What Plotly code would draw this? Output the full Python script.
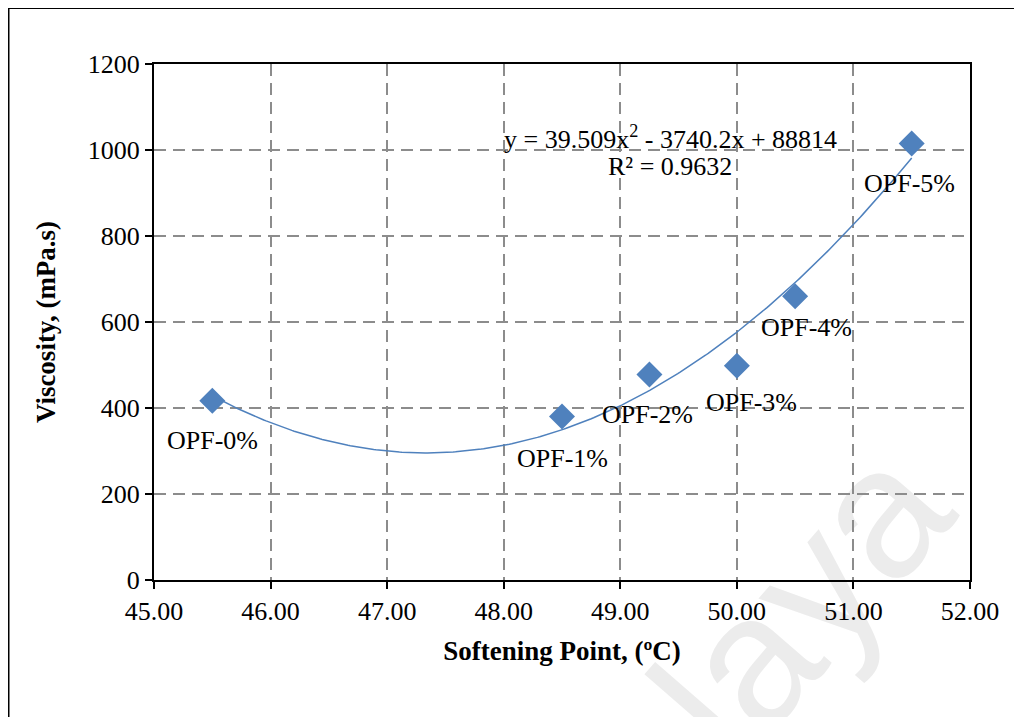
import numpy as np
import plotly.graph_objects as go

# ---- data ----
samples = ["OPF-0%", "OPF-1%", "OPF-2%", "OPF-3%", "OPF-4%", "OPF-5%"]
softening_point = [45.50, 48.50, 49.25, 50.00, 50.50, 51.50]
viscosity = [417, 380, 478, 498, 660, 1015]
trend_coeffs = [39.509, -3740.2, 88814]   # y = a x^2 + b x + c (Excel trendline)
x_ticks = [45, 46, 47, 48, 49, 50, 51, 52]
y_ticks = [0, 200, 400, 600, 800, 1000, 1200]
# label offsets (px) relative to each point
label_dx = [0, 0, -2, 15, 11, -2]
label_dy = [-40, -42, -40, -37, -31, -40]

FONT = "Liberation Serif, Times New Roman, serif"
BLUE = "#4F81BD"

fig = go.Figure()

xs = np.linspace(min(softening_point), max(softening_point), 300)
fig.add_trace(go.Scatter(x=xs, y=np.polyval(trend_coeffs, xs), mode="lines",
                         line=dict(color=BLUE, width=1.5), hoverinfo="skip",
                         showlegend=False))

fig.add_trace(go.Scatter(x=softening_point, y=viscosity, mode="markers",
                         marker=dict(symbol="diamond", size=20, color=BLUE,
                                     line=dict(width=0)),
                         showlegend=False))

annotations = []
for s, x, y, dx, dy in zip(samples, softening_point, viscosity, label_dx, label_dy):
    annotations.append(dict(x=x, y=y, text=s, showarrow=False, xshift=dx, yshift=dy,
                            xanchor="center", yanchor="middle",
                            font=dict(family=FONT, size=26, color="black")))

annotations.append(dict(x=49.43, y=1030, xref="x", yref="y", showarrow=False,
                        xanchor="center", yanchor="middle",
                        text="y = 39.509x<sup>2</sup> - 3740.2x + 88814",
                        font=dict(family=FONT, size=26, color="black")))
annotations.append(dict(x=49.43, y=962, xref="x", yref="y", showarrow=False,
                        xanchor="center", yanchor="middle",
                        text="R² = 0.9632",
                        font=dict(family=FONT, size=26, color="black")))

grid = dict(showgrid=True, gridcolor="#8c8c8c", gridwidth=1.5, griddash="12px,7px")

fig.update_xaxes(range=[45, 52], tickvals=x_ticks, tickformat=".2f",
                 showline=True, linecolor="black", linewidth=2, mirror=True,
                 ticks="outside", ticklen=7, tickwidth=1.5, tickcolor="black",
                 zeroline=False,
                 tickfont=dict(family=FONT, size=26, color="black"),
                 title=dict(text="<b>Softening Point, (ºC)</b>", standoff=16,
                            font=dict(family=FONT, size=27, color="black")),
                 **grid)
fig.update_yaxes(range=[0, 1200], tickvals=y_ticks,
                 showline=True, linecolor="black", linewidth=2, mirror=True,
                 ticks="outside", ticklen=7, tickwidth=1.5, tickcolor="black",
                 zeroline=False,
                 tickfont=dict(family=FONT, size=26, color="black"),
                 title=dict(text="<b>Viscosity, (mPa.s)</b>", standoff=24,
                            font=dict(family=FONT, size=27, color="black")),
                 **grid)

shapes = [
    # watermark, drawn beneath grid, axes and labels
    dict(type="rect", xref="paper", yref="paper", x0=0.6265, x1=0.7185, y0=-0.251, y1=-0.163,
         line=dict(width=0), fillcolor="rgba(0,0,0,0)", layer="below",
         label=dict(text="Malaya", textangle=-49, textposition="middle center",
                    font=dict(family="Liberation Sans, Arial, sans-serif", size=185,
                              color="#ececec"))),
    # outer frame (left and top edges visible)
    dict(type="line", xref="paper", yref="paper", x0=-0.1783, x1=-0.1783, y0=1.1085, y1=-0.3,
         line=dict(color="black", width=2)),
    dict(type="line", xref="paper", yref="paper", x0=-0.1783, x1=1.2, y0=1.1085, y1=1.1085,
         line=dict(color="black", width=2)),
]

fig.update_layout(width=1022, height=717,
                  margin=dict(l=146, r=60, t=56, b=145, autoexpand=False),
                  paper_bgcolor="white", plot_bgcolor="rgba(0,0,0,0)",
                  annotations=annotations, shapes=shapes, showlegend=False)

fig.write_html("out.html")
